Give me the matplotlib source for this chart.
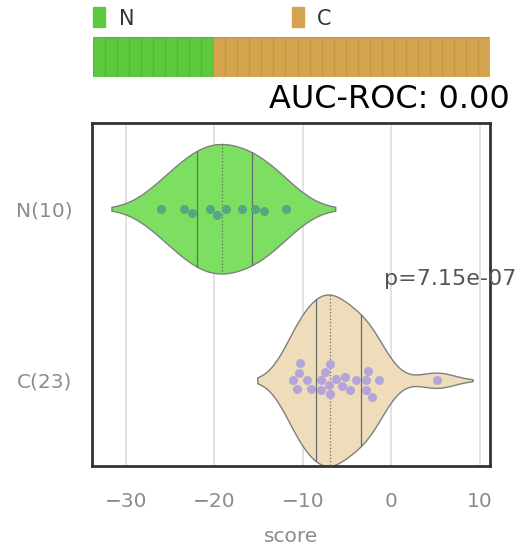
import numpy as np
import pandas as pd
import matplotlib
matplotlib.use("Agg")
import matplotlib.pyplot as plt
import seaborn as sns

# ---- data ----
categories = ["N", "C"]
tick_labels = ["N(10)", "C(23)"]
n_scores = [-26.1, -23.4, -22.5, -20.5, -19.7, -18.7, -16.9, -15.4, -14.4, -11.9]
c_scores = [-11.1, -10.7, -10.5, -10.3, -9.6, -9.1, -8.0, -8.0, -7.5, -7.1, -6.9,
            -6.9, -6.3, -5.6, -5.3, -4.7, -4.0, -2.9, -2.9, -2.6, -2.2, -1.4, 5.1]
x_ticks = [-30, -20, -10, 0, 10]
p_text = "p=7.15e-07"
auc_text = "AUC-ROC: 0.00"

violin_colors = {"N": "#7ddf62", "C": "#efdcba"}
point_colors = {"N": "#55a77f", "C": "#b4a5d8"}
bar_colors = {"N": "#5ec83e", "C": "#d4a44e"}
bar_edges = {"N": "#50b832", "C": "#c49442"}

scores = {"N": n_scores, "C": c_scores}
df = pd.DataFrame({
    "score": n_scores + c_scores,
    "group": ["N"] * len(n_scores) + ["C"] * len(c_scores),
})

sns.set_style("white")
plt.rcParams["font.family"] = ["DejaVu Sans"]

W, H = 517, 547
fig = plt.figure(figsize=(W / 100, H / 100), dpi=100)

# ---- main axes ----
ax = fig.add_axes([92 / W, 1 - 466 / H, (490 - 92) / W, (466 - 123) / H])
ax.grid(axis="x", color="#dddddd", linewidth=1.2)
ax.set_axisbelow(True)


def kde(vals, grid):
    v = np.asarray(vals, float)
    bw = v.std(ddof=1) * len(v) ** (-1 / 5)
    d = np.exp(-0.5 * ((grid[:, None] - v[None, :]) / bw) ** 2).sum(1)
    return d / (len(v) * bw * np.sqrt(2 * np.pi)), bw


dens = {}
for cat in categories:
    v = np.asarray(scores[cat], float)
    bw = v.std(ddof=1) * len(v) ** (-1 / 5)
    grid = np.linspace(v.min() - 2 * bw, v.max() + 2 * bw, 400)
    d, _ = kde(v, grid)
    dens[cat] = (grid, d)
peak = max(d.max() for _, d in dens.values())
half_width = 0.5

for i, cat in enumerate(categories):
    grid, d = dens[cat]
    h = d / peak * half_width
    ax.fill_between(grid, i - h, i + h, facecolor=violin_colors[cat],
                    edgecolor="#7f7f7f", linewidth=1.0, zorder=2)
    q1, med, q3 = np.percentile(scores[cat], [25, 50, 75])
    for q, ls in [(q1, "-"), (med, ":"), (q3, "-")]:
        hq = np.interp(q, grid, h)
        ax.plot([q, q], [i - hq, i + hq], color="#6a6a6a", linestyle=ls,
                linewidth=0.9, zorder=3)

for cat in categories:
    sub = df[df["group"] == cat]
    sns.swarmplot(x=sub["score"], y=pd.Categorical(sub["group"], categories=categories),
                  order=categories, color=point_colors[cat], size=6.5, orient="h",
                  ax=ax, zorder=5)

ax.set_xlim(-33.84, 11.13)
ax.set_ylim(1.5, -0.5)
ax.set_xticks(x_ticks)
ax.set_xticklabels([str(t).replace("-", "\u2212") for t in x_ticks])
ax.set_yticks([0, 1])
ax.set_yticklabels(tick_labels)
ax.tick_params(axis="x", length=0, labelsize=14.5, labelcolor="#8c8c8c", pad=19)
ax.tick_params(axis="y", length=0, labelsize=14.5, labelcolor="#8c8c8c", pad=14)
ax.set_xlabel("score", fontsize=14.5, color="#8c8c8c", labelpad=11)
ax.set_ylabel("")
for s in ax.spines.values():
    s.set_visible(True)
    s.set_color("#333333")
    s.set_linewidth(2)
ax.text(-0.9, 0.41, p_text, fontsize=16, color="#555555", ha="left", va="center",
        clip_on=False)

# ---- top color bar ----
groups_seq = ["N"] * len(n_scores) + ["C"] * len(c_scores)
bax = fig.add_axes([93 / W, 1 - 77 / H, (490 - 93) / W, 40 / H])
bax.bar(np.arange(len(groups_seq)), [1] * len(groups_seq), width=1.0, align="edge",
        color=[bar_colors[g] for g in groups_seq],
        edgecolor=[bar_edges[g] for g in groups_seq], linewidth=0.8)
bax.set_xlim(0, len(groups_seq))
bax.set_ylim(0, 1)
bax.axis("off")

# legend patches
for cat, px, tx in [("N", 93, 119), ("C", 292, 317)]:
    fig.patches.append(plt.Rectangle((px / W, 1 - 27 / H), 12 / W, 20 / H,
                                     transform=fig.transFigure, color=bar_colors[cat]))
    fig.text(tx / W, 1 - 19 / H, cat, fontsize=15, color="#333333", va="center", ha="left")

fig.text(510 / W, 1 - 99 / H, auc_text, fontsize=23, color="black", ha="right", va="center")

fig.savefig("out.png", dpi=100)
